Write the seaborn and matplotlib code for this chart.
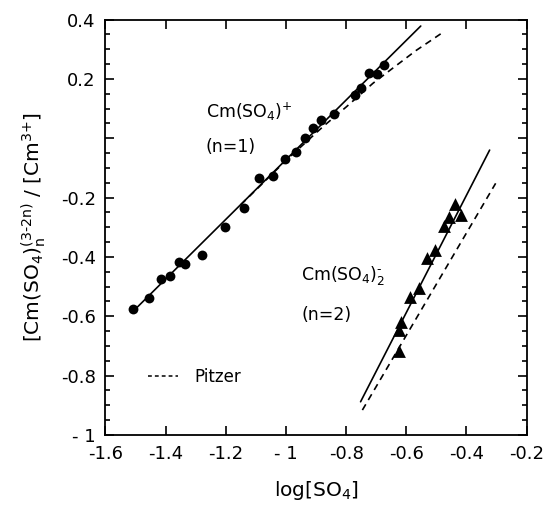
import numpy as np
import pandas as pd
import seaborn as sns
import matplotlib.pyplot as plt
from matplotlib.lines import Line2D
from matplotlib.ticker import MultipleLocator, FixedLocator

# Cm(SO4)+ data (n=1)
n1_x = [-1.508, -1.456, -1.417, -1.384, -1.357, -1.336, -1.279, -1.203, -1.140, -1.089, -1.043,
        -1.003, -0.968, -0.938, -0.910, -0.885, -0.841, -0.772, -0.749, -0.724, -0.696, -0.674]
n1_y = [-0.576, -0.538, -0.474, -0.463, -0.416, -0.424, -0.392, -0.299, -0.236, -0.135, -0.126,
        -0.071, -0.045, 0.000, 0.035, 0.060, 0.080, 0.146, 0.168, 0.221, 0.215, 0.246]

# Cm(SO4)2- data (n=2)
n2_x = [-0.437, -0.459, -0.419, -0.476, -0.503, -0.530, -0.558, -0.587, -0.617, -0.625, -0.625]
n2_y = [-0.222, -0.266, -0.259, -0.295, -0.377, -0.405, -0.506, -0.536, -0.618, -0.646, -0.716]

# fitted lines
fit1_x = [-1.50, -0.552]
fit1_y = [-0.575, 0.378]
fit2_x = [-0.752, -0.323]
fit2_y = [-0.888, -0.040]

# Pitzer curves
pitz1_x = [-1.15, -1.0, -0.877, -0.799, -0.711, -0.645, -0.606, -0.567, -0.523, -0.478]
pitz1_y = [-0.224, -0.075, 0.039, 0.106, 0.185, 0.236, 0.266, 0.296, 0.326, 0.357]
pitz2_x = [-0.746, -0.303]
pitz2_y = [-0.916, -0.152]

xticks = [-1.6, -1.4, -1.2, -1.0, -0.8, -0.6, -0.4, -0.2]
xticklabels = ['-1.6', '-1.4', '-1.2', '- 1', '-0.8', '-0.6', '-0.4', '-0.2']
yticks = [-1.0, -0.8, -0.6, -0.4, -0.2, 0.0, 0.2, 0.4]
yticklabels = ['- 1', '-0.8', '-0.6', '-0.4', '-0.2', '', '0.2', '0.4']

sns.set_style('ticks')
plt.rcParams['font.family'] = ['DejaVu Sans']
plt.rcParams['mathtext.default'] = 'regular'
plt.rcParams['text.color'] = 'black'
plt.rcParams['axes.labelcolor'] = 'black'

fig = plt.figure(figsize=(5.48, 5.12), dpi=100)
ax = fig.add_axes([0.1925, 0.1504, 0.7685, 0.8115])

df1 = pd.DataFrame({'x': n1_x, 'y': n1_y})
df2 = pd.DataFrame({'x': n2_x, 'y': n2_y})

# lines
sns.lineplot(x=fit1_x, y=fit1_y, ax=ax, color='black', lw=1.2, estimator=None, sort=False)
sns.lineplot(x=fit2_x, y=fit2_y, ax=ax, color='black', lw=1.2, estimator=None, sort=False)
sns.lineplot(x=pitz1_x, y=pitz1_y, ax=ax, color='black', lw=1.2, estimator=None, sort=False,
             linestyle=(0, (4, 3)))
sns.lineplot(x=pitz2_x, y=pitz2_y, ax=ax, color='black', lw=1.2, estimator=None, sort=False,
             linestyle=(0, (4, 3)))

# points
sns.scatterplot(data=df1, x='x', y='y', ax=ax, color='black', marker='o', s=50, edgecolor='black', linewidth=0)
sns.scatterplot(data=df2, x='x', y='y', ax=ax, color='black', marker='^', s=85, edgecolor='black', linewidth=0)

ax.set_xlim(-1.6, -0.2)
ax.set_ylim(-1.0, 0.4)
ax.xaxis.set_major_locator(FixedLocator(xticks))
ax.set_xticklabels(xticklabels)
ax.yaxis.set_major_locator(FixedLocator(yticks))
ax.set_yticklabels(yticklabels)
ax.yaxis.set_minor_locator(MultipleLocator(0.05))

for s in ax.spines.values():
    s.set_visible(True)
    s.set_linewidth(1.3)
    s.set_color('black')
ax.tick_params(which='both', direction='in', top=True, right=True, width=1.2, colors='black',
               labelsize=13, pad=7)
ax.tick_params(which='major', length=6.5)
ax.tick_params(which='minor', length=3.6)

ax.set_xlabel('log[SO$_4$]', fontsize=14.5, labelpad=12)
ax.set_ylabel(r'[Cm(SO$_4$)$_n^{\text{(3-2n)}}$ / [Cm$^{\text{3+}}$]', fontsize=14.5, labelpad=9)

# annotations
ax.text(-1.266, 0.088, r'Cm(SO$_4$)$^{\text{+}}$', fontsize=12.5, va='center', ha='left')
ax.text(-1.266, -0.028, '(n=1)', fontsize=12.5, va='center', ha='left')
ax.text(-0.949, -0.461, r'Cm(SO$_4$)$_2^{\text{-}}$', fontsize=12.5, va='center', ha='left')
ax.text(-0.949, -0.596, '(n=2)', fontsize=12.5, va='center', ha='left')

handle = Line2D([], [], color='black', lw=1.1, linestyle=(0, (2.5, 2)))
ax.legend(handles=[handle], labels=['Pitzer'], loc='center left', bbox_to_anchor=(0.065, 0.14),
          frameon=False, fontsize=12, handlelength=1.8, handletextpad=1.0)

fig.savefig('out.png', dpi=100)
